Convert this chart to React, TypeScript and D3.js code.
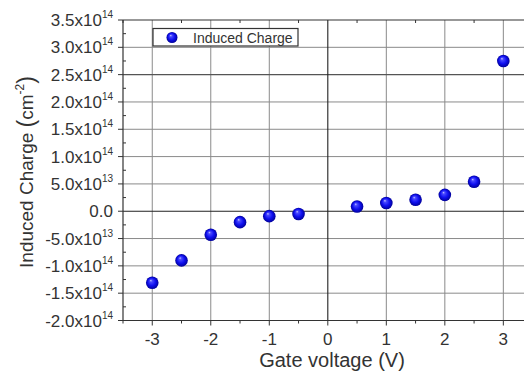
import React from "react";
import * as d3 from "d3";

const gateVoltage = [-3, -2.5, -2, -1.5, -1, -0.5, 0.5, 1, 1.5, 2, 2.5, 3];
const inducedCharge = [-1.31e14, -0.9e14, -0.43e14, -0.2e14, -0.09e14, -0.05e14, 0.086e14, 0.15e14, 0.21e14, 0.3e14, 0.54e14, 2.75e14];
const xTicks = [-3, -2, -1, 0, 1, 2, 3];
const yTicks = [-2e14, -1.5e14, -1e14, -0.5e14, 0, 0.5e14, 1e14, 1.5e14, 2e14, 2.5e14, 3e14, 3.5e14];
const seriesName = "Induced Charge";

const W = 524, H = 371;
const left = 123, top = 20, bottom = 320.5, right = 532.6;
const font = "Liberation Sans, Arial, sans-serif";
const textColor = "#333";

function yLabel(v: number) {
  if (v === 0) return { mant: "0.0", exp: null as string | null };
  const e = Math.floor(Math.log10(Math.abs(v)) + 1e-9);
  const m = v / Math.pow(10, e);
  return { mant: m.toFixed(1) + "x10", exp: String(e) };
}

export default function App() {
  const x = d3.scaleLinear().domain([-3.5, 3.5]).range([left, right]);
  const y = d3.scaleLinear().domain([-2e14, 3.5e14]).range([bottom, top]);
  const xMinor = d3.range(-3.5, 3.51, 0.5).filter((v) => !Number.isInteger(v));
  const yMinor = d3.range(-1.75e14, 3.5e14, 0.5e14);
  const r = 6.3;

  return (
    <svg width={W} height={H} style={{ position: "absolute", left: 0, top: 0, background: "#fff" }} fontFamily={font}>
      <defs>
        <radialGradient id="ball" cx="0.5" cy="0.5" r="0.5" fx="0.38" fy="0.3">
          <stop offset="0" stopColor="#c8c8ff" />
          <stop offset="0.2" stopColor="#4a4aff" />
          <stop offset="0.6" stopColor="#1010f0" />
          <stop offset="1" stopColor="#00009a" />
        </radialGradient>
      </defs>
      <rect x={0} y={0} width={W} height={H} fill="#fff" />
      {/* grid */}
      {xTicks.filter((v) => v !== 0).map((v) => (
        <line key={"gx" + v} x1={x(v)} x2={x(v)} y1={top} y2={bottom} stroke="#8a8a8a" strokeWidth={1} />
      ))}
      {yTicks.filter((v) => v !== 0 && v !== 3.5e14 && v !== -2e14).map((v) => (
        <line key={"gy" + v} x1={left} x2={right} y1={y(v)} y2={y(v)} stroke={v === 2.5e14 ? "#555" : "#8a8a8a"} strokeWidth={v === 2.5e14 ? 1.3 : 1} />
      ))}
      {/* zero lines */}
      <line x1={x(0)} x2={x(0)} y1={top} y2={bottom} stroke="#222" strokeWidth={1.1} />
      <line x1={left} x2={right} y1={y(0)} y2={y(0)} stroke="#222" strokeWidth={1.1} />
      {/* frame */}
      <line x1={left} x2={right} y1={top} y2={top} stroke="#333" strokeWidth={1.2} />
      <line x1={left} x2={right} y1={bottom} y2={bottom} stroke="#333" strokeWidth={1.2} />
      <line x1={left} x2={left} y1={top} y2={bottom} stroke="#333" strokeWidth={1.2} />
      {/* y ticks */}
      {yTicks.map((v) => (
        <line key={"yt" + v} x1={left - 5} x2={left} y1={y(v)} y2={y(v)} stroke="#333" />
      ))}
      {yMinor.map((v) => (
        <line key={"ym" + v} x1={left} x2={left + 3} y1={y(v)} y2={y(v)} stroke="#333" />
      ))}
      {/* x ticks */}
      {xTicks.map((v) => (
        <line key={"xt" + v} x1={x(v)} x2={x(v)} y1={bottom} y2={bottom + 5} stroke="#333" />
      ))}
      {xMinor.map((v) => (
        <g key={"xm" + v}>
          <line x1={x(v)} x2={x(v)} y1={bottom} y2={bottom + 3} stroke="#333" />
          <line x1={x(v)} x2={x(v)} y1={top} y2={top + 3} stroke="#333" />
        </g>
      ))}
      {/* y tick labels */}
      {yTicks.map((v) => {
        const l = yLabel(v);
        return (
          <text key={"yl" + v} x={113} y={y(v) + 6} textAnchor="end" fontSize={17} fill={textColor}>
            {l.mant}
            {l.exp && (
              <tspan fontSize={10} dy={-8}>{l.exp}</tspan>
            )}
          </text>
        );
      })}
      {/* x tick labels */}
      {xTicks.map((v) => (
        <text key={"xl" + v} x={x(v)} y={345} textAnchor="middle" fontSize={17} fill={textColor}>
          {v}
        </text>
      ))}
      {/* axis titles */}
      <text x={332} y={367} textAnchor="middle" fontSize={20} fill={textColor}>Gate voltage (V)</text>
      <text transform="translate(33,172) rotate(-90)" textAnchor="middle" fontSize={19} fill={textColor}>
        Induced Charge <tspan fontSize={23} dy={1}>(</tspan><tspan dy={-1}>cm</tspan><tspan fontSize={12} dy={-9}>-2</tspan><tspan fontSize={23} dy={10}>)</tspan>
      </text>
      {/* points */}
      {gateVoltage.map((v, i) => (
        <circle key={"p" + i} cx={x(v)} cy={y(inducedCharge[i])} r={r} fill="url(#ball)" />
      ))}
      {/* legend */}
      <rect x={153} y={28.5} width={145} height={17.5} fill="#fff" stroke="#333" strokeWidth={1.2} />
      <circle cx={172} cy={37.5} r={5.5} fill="url(#ball)" />
      <text x={193} y={42.5} fontSize={14} fill={textColor}>{seriesName}</text>
    </svg>
  );
}
